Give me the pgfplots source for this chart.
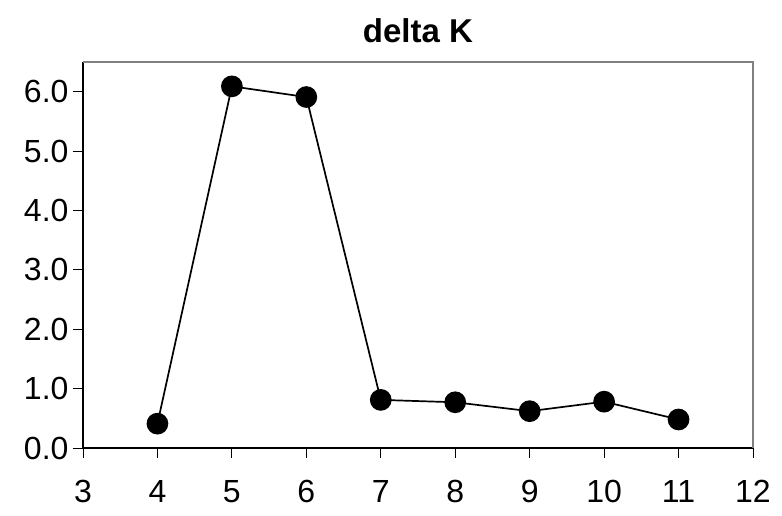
\documentclass[border=0pt]{standalone}
\usepackage{fontspec}
\setmainfont{Liberation Sans}
\usepackage{pgfplots}
\pgfplotsset{compat=1.18}
\begin{document}
\begin{tikzpicture}
\begin{axis}[
  scale only axis,
  width=670pt, height=386pt,
  xmin=3, xmax=12, ymin=0, ymax=6.5,
  xtick={3,4,...,12}, ytick={0,1,...,6},
  axis x line*=bottom, axis y line*=left,
  axis line style={black, line width=1.2pt},
  tick align=outside, major tick length=10pt,
  tick style={black, line width=0.8pt},
  /pgf/number format/assume math mode=true,
  yticklabel style={/pgf/number format/fixed, /pgf/number format/fixed zerofill, /pgf/number format/precision=1, xshift=-1pt},
  ticklabel style={font=\fontsize{32}{36}\selectfont},
  xticklabel style={yshift=-19pt},
  title={\textbf{delta K}},
  title style={font=\fontsize{33}{38}\selectfont, yshift=10pt},
  clip=false,
]
\addplot[black, line width=1.7pt, mark=*, mark size=10pt, mark options={fill=black}]
  coordinates {(4,0.41) (5,6.09) (6,5.91) (7,0.81) (8,0.77) (9,0.62) (10,0.78) (11,0.48)};
\draw[gray, line width=1.2pt] (rel axis cs:0,1) -- (rel axis cs:1,1) -- (rel axis cs:1,0);
\end{axis}
\pgfresetboundingbox
\path (current axis.south west) ++(-83pt,-68pt) rectangle ++(782pt,516pt);
\end{tikzpicture}
\end{document}
